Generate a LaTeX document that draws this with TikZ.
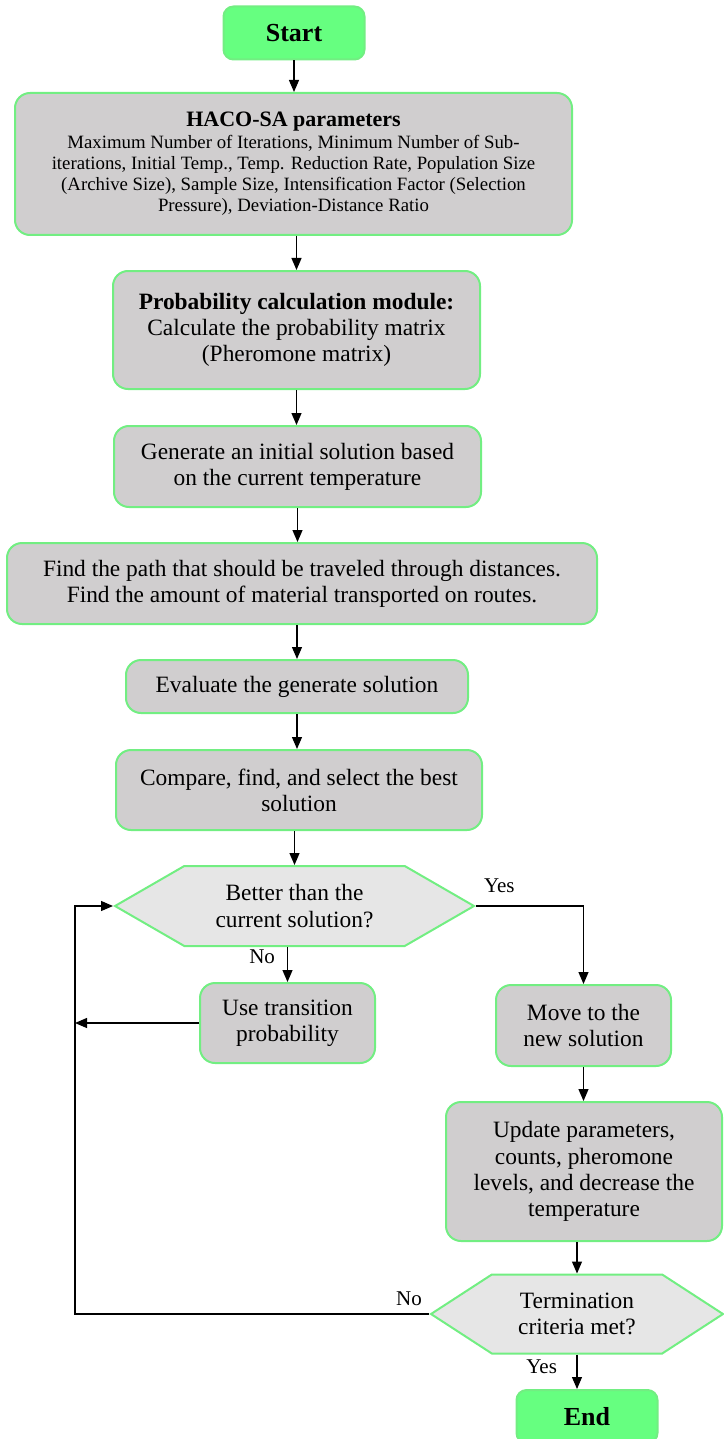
\documentclass[tikz,border=0pt]{standalone}
\usepackage{fontspec}
\setmainfont{Liberation Serif}
\usetikzlibrary{arrows.meta, shapes.symbols}

\definecolor{termgreen}{HTML}{66FF80}
\definecolor{boxline}{HTML}{72EE82}
\definecolor{boxgray}{HTML}{D0CECF}
\definecolor{hexgray}{HTML}{E6E6E6}

\tikzset{
  terminal/.style={draw=boxline, fill=termgreen, rounded corners=5pt, line width=1pt,
    minimum width=70.5pt, minimum height=26.5pt, font=\bfseries\fontsize{13}{15}\selectfont},
  process/.style={draw=boxline, fill=boxgray, rounded corners=7.5pt, line width=1pt,
    align=center, inner sep=0pt, font=\fontsize{11.7}{13.1}\selectfont},
  decision/.style={signal, signal to=east and west, draw=boxline, fill=hexgray, line width=1pt,
    align=center, inner sep=0pt, font=\fontsize{11.7}{13.1}\selectfont},
  flow/.style={-{Triangle[length=6pt,width=5pt]}, line width=0.6pt},
  answer/.style={font=\fontsize{10.5}{12}\selectfont}
}

\begin{document}
\begin{tikzpicture}[x=0.5pt, y=-0.5pt]
\useasboundingbox (0,0) rectangle (723,1439);

% Main column
\node[terminal] (start) at (294,33) {Start};
\node[process, minimum width=278.5pt, minimum height=71pt, font=\fontsize{9.4}{10.6}\selectfont] (params) at (293.5,164)
  {\textbf{\fontsize{11}{13}\selectfont HACO-SA parameters}\\
   Maximum Number of Iterations, Minimum Number of Sub-\\
   iterations, Initial Temp., Temp. Reduction Rate, Population Size\\
   (Archive Size), Sample Size, Intensification Factor (Selection\\
   Pressure), Deviation-Distance Ratio};
\node[process, minimum width=183.5pt, minimum height=59pt] (prob) at (296.5,330)
  {\textbf{Probability calculation module:}\\
   Calculate the probability matrix\\
   (Pheromone matrix)};
\node[process, minimum width=183.5pt, minimum height=40.5pt] (init) at (297.5,466.5)
  {Generate an initial solution based\\on the current temperature};
\node[process, minimum width=295pt, minimum height=40.5pt] (path) at (302,583.5)
  {Find the path that should be traveled through distances.\\
   Find the amount of material transported on routes.};
\node[process, minimum width=171pt, minimum height=26.5pt] (eval) at (297,686.5)
  {Evaluate the generate solution};
\node[process, minimum width=183pt, minimum height=40pt] (best) at (299,790)
  {Compare, find, and select the best\\solution};

% Decisions
\node[decision, signal pointer angle=60, minimum width=179.5pt, minimum height=40pt] (better) at (294.5,906)
  {Better than the\\current solution?};
\node[process, minimum width=87.5pt, minimum height=40pt] (trans) at (287.5,1023)
  {Use transition\\probability};
\node[process, minimum width=87.5pt, minimum height=40.5pt] (move) at (583.5,1025.5)
  {Move to the\\new solution};
\node[process, minimum width=138pt, minimum height=69.5pt] (update) at (584,1171.5)
  {Update parameters,\\counts, pheromone\\levels, and decrease the\\temperature};
\node[decision, signal pointer angle=66, minimum width=146pt, minimum height=39.5pt] (stop) at (577,1314)
  {Termination\\criteria met?};
\node[terminal] (end) at (587,1416.5) {End};
\coordinate (back) at (75,1314);

% Arrows
\draw[flow] (start.south) -- (start.south |- params.north);
\draw[flow] (params.south -| prob.north) -- (prob.north);
\draw[flow] (prob.south) -- (prob.south |- init.north);
\draw[flow] (init.south) -- (init.south |- path.north);
\draw[flow] (eval.north |- path.south) -- (eval.north);
\draw[flow] (eval.south) -- (eval.south |- best.north);
\draw[flow] (best.south -| better.north) -- (better.north);
\draw[flow] (trans.north |- better.south) -- (trans.north);
\node[answer, anchor=east] (no1) at (282,957) {No};
\draw[flow] (better.east) -| (move.north);
\node[answer, anchor=west] (yes1) at (477,886) {Yes};
\draw[flow] (trans.west) -- (trans.west -| back);
\draw[flow] (move.south) -- (move.south |- update.north);
\draw[flow] (stop.north |- update.south) -- (stop.north);
\draw[flow] (stop.west) -- (back) |- (better.west);
\node[answer] (no2) at (409,1299) {No};
\draw[flow] (stop.south) -- (stop.south |- end.north);
\node[answer, anchor=east] (yes2) at (564,1367) {Yes};

\end{tikzpicture}
\end{document}
